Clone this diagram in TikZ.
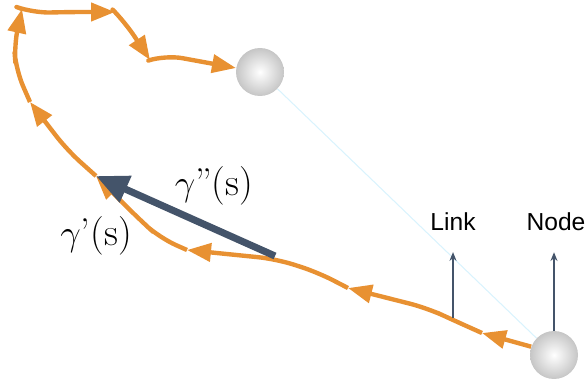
\documentclass[tikz,border=0pt]{standalone}
\usepackage{fontspec}
\newfontfamily\labelfont{Liberation Sans}
\usetikzlibrary{arrows.meta}
\definecolor{curveorange}{RGB}{232,145,50}
\definecolor{slate}{RGB}{68,84,106}
\tikzset{
  ball/.style={circle, minimum size=0.96cm, inner sep=0pt, inner color=white, outer color=gray!45},
  curve/.style={curveorange, line width=2.5pt, rounded corners=10pt, line join=round, -{Triangle[length=0.48cm,width=0.36cm]}},
  tag/.style={font=\labelfont\fontsize{14}{16}\selectfont},
  gammalabel/.style={font=\fontsize{22}{26}\selectfont},
  pointer/.style={slate, line width=0.8pt, -{Stealth[length=5pt,width=4pt]}}
}
\begin{document}
\begin{tikzpicture}[x=0.02cm,y=-0.02cm]
    \useasboundingbox (0,0) rectangle (585,385);
    \node[ball] (top) at (260,72) {};
    \node[ball] (bot) at (554,355) {};
    \draw[cyan!15, line width=0.6pt] (top) -- (bot);
    \coordinate (t1) at (482,333);
    \coordinate (t2) at (348,288);
    \coordinate (t3) at (187,250);
    \coordinate (t4) at (96,176);
    \coordinate (t5) at (30,102);
    \coordinate (t6) at (22,9);
    \coordinate (t7) at (115,12);
    \coordinate (t8) at (150,60);
    \coordinate (t9) at (236,68);
    \draw[curve] (bot.160) -- (t1);
    \draw[curve] (t1) -- (453,320) -- (427,308) -- (t2);
    \draw[curve] (t2) -- (317,272) -- (276,259) -- (t3);
    \draw[curve] (t3) -- (160,238) -- (140,220) -- (t4);
    \draw[curve] (t4) -- (67,150) -- (t5);
    \draw[curve] (t5) -- (16,70) -- (14,45) -- (t6);
    \draw[curve] (t6) -- (33,13) -- (67,12) -- (t7);
    \draw[curve] (t7) -- (125,22) -- (t8);
    \draw[curve] (t8) -- (165,55) -- (t9);
    \coordinate (acc) at (275,256);
    \draw[slate, line width=4pt, -{Triangle[length=0.65cm,width=0.55cm]}] (acc) -- (t4);
    \node[gammalabel] (g2) at (214,186) {$\gamma$\textquotedblright(s)};
    \node[gammalabel] (g1) at (96,236) {$\gamma$\textquoteright(s)};
    \node[tag] (link) at (453,222) {Link};
    \node[tag] (node) at (556,222) {Node};
    \coordinate (lfoot) at (453,318);
    \draw[pointer, shorten >=0.3cm] (lfoot) -- (link.south);
    \draw[pointer, shorten >=0.3cm] (bot.north) -- (bot.north |- node.south);
\end{tikzpicture}
\end{document}
